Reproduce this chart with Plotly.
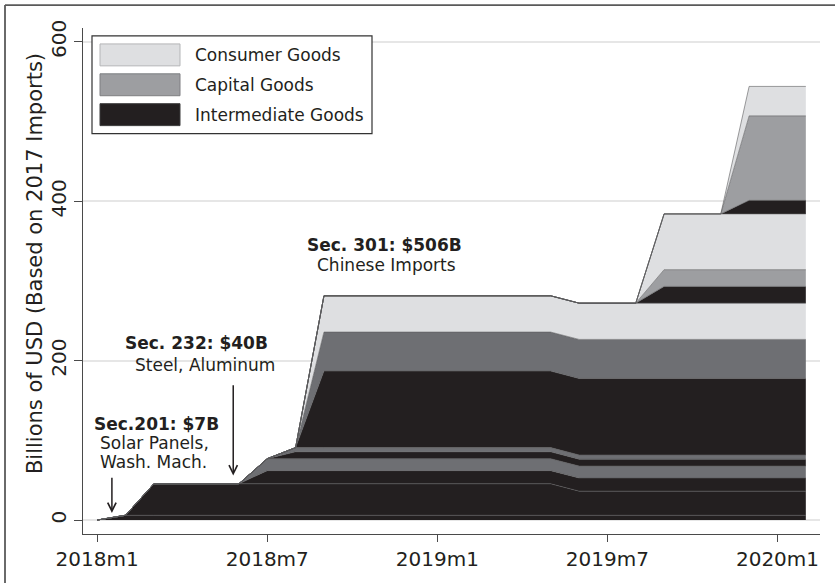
import plotly.graph_objects as go

# ---------------- data (billions of USD, based on 2017 imports) ----------------
months = ["2018m1", "2018m2", "2018m3", "2018m4", "2018m5", "2018m6", "2018m7",
          "2018m8", "2018m9", "2018m10", "2018m11", "2018m12", "2019m1",
          "2019m2", "2019m3", "2019m4", "2019m5", "2019m6", "2019m7",
          "2019m8", "2019m9", "2019m10", "2019m11", "2019m12", "2020m1", "2020m2"]
month_idx = list(range(len(months)))

tick_vals = [0, 6, 12, 18, 24]
tick_text = ["2018m1", "2018m7", "2019m1", "2019m7", "2020m1"]
y_ticks = [0, 200, 400, 600]

# Sec. 201 (solar panels, washing machines)
sec201_int = [0, 6, 6, 6, 6, 6, 6, 6, 6, 6, 6, 6, 6,
              6, 6, 6, 6, 6, 6, 6, 6, 6, 6, 6, 6, 6]
# Sec. 232 (steel, aluminum)
sec232_int = [0, 0, 39.5, 39.5, 39.5, 39.5, 39.5, 39.5, 39.5, 39.5, 39.5, 39.5, 39.5,
              39.5, 39.5, 39.5, 39.5, 30.3, 30.3, 30.3, 30.3, 30.3, 30.3, 30.3, 30.3, 30.3]
# Sec. 301 List 1
list1_int = [0, 0, 0, 0, 0, 0, 16.5, 16.5, 16.5, 16.5, 16.5, 16.5, 16.5,
             16.5, 16.5, 16.5, 16.5, 16.5, 16.5, 16.5, 16.5, 16.5, 16.5, 16.5, 16.5, 16.5]
list1_cap = [0, 0, 0, 0, 0, 0, 15, 15, 15, 15, 15, 15, 15,
             15, 15, 15, 15, 15, 15, 15, 15, 15, 15, 15, 15, 15]
# Sec. 301 List 2
list2_int = [0, 0, 0, 0, 0, 0, 0, 8.6, 8.6, 8.6, 8.6, 8.6, 8.6,
             8.6, 8.6, 8.6, 8.6, 8.6, 8.6, 8.6, 8.6, 8.6, 8.6, 8.6, 8.6, 8.6]
list2_cap = [0, 0, 0, 0, 0, 0, 0, 5.3, 5.3, 5.3, 5.3, 5.3, 5.3,
             5.3, 5.3, 5.3, 5.3, 5.3, 5.3, 5.3, 5.3, 5.3, 5.3, 5.3, 5.3, 5.3]
# Sec. 301 List 3
list3_int = [0, 0, 0, 0, 0, 0, 0, 0, 96, 96, 96, 96, 96,
             96, 96, 96, 96, 96, 96, 96, 96, 96, 96, 96, 96, 96]
list3_cap = [0, 0, 0, 0, 0, 0, 0, 0, 49, 49, 49, 49, 49,
             49, 49, 49, 49, 49, 49, 49, 49, 49, 49, 49, 49, 49]
list3_con = [0, 0, 0, 0, 0, 0, 0, 0, 45.5, 45.5, 45.5, 45.5, 45.5,
             45.5, 45.5, 45.5, 45.5, 45.5, 45.5, 45.5, 45.5, 45.5, 45.5, 45.5, 45.5, 45.5]
# Sec. 301 List 4A
list4a_int = [0, 0, 0, 0, 0, 0, 0, 0, 0, 0, 0, 0, 0,
              0, 0, 0, 0, 0, 0, 0, 21, 21, 21, 21, 21, 21]
list4a_cap = [0, 0, 0, 0, 0, 0, 0, 0, 0, 0, 0, 0, 0,
              0, 0, 0, 0, 0, 0, 0, 21, 21, 21, 21, 21, 21]
list4a_con = [0, 0, 0, 0, 0, 0, 0, 0, 0, 0, 0, 0, 0,
              0, 0, 0, 0, 0, 0, 0, 70, 70, 70, 70, 70, 70]
# Sec. 301 List 4B
list4b_int = [0, 0, 0, 0, 0, 0, 0, 0, 0, 0, 0, 0, 0,
              0, 0, 0, 0, 0, 0, 0, 0, 0, 0, 17, 17, 17]
list4b_cap = [0, 0, 0, 0, 0, 0, 0, 0, 0, 0, 0, 0, 0,
              0, 0, 0, 0, 0, 0, 0, 0, 0, 0, 106, 106, 106]
list4b_con = [0, 0, 0, 0, 0, 0, 0, 0, 0, 0, 0, 0, 0,
              0, 0, 0, 0, 0, 0, 0, 0, 0, 0, 37, 37, 37]

legend_labels = ["Consumer Goods", "Capital Goods", "Intermediate Goods"]

# ---------------- styles ----------------
BLACK = "#231f20"
DGRAY = "#6e6f73"
MGRAY = "#9d9ea1"
LGRAY = "#dedfe1"
EDGE = "#5a5a5d"
FONT = "DejaVu Sans"
TXT = "#231f20"

bands = [
    ("Sec.201 intermediate", sec201_int, BLACK),
    ("Sec.232 intermediate", sec232_int, BLACK),
    ("List 1 intermediate", list1_int, BLACK),
    ("List 1 capital", list1_cap, DGRAY),
    ("List 2 intermediate", list2_int, BLACK),
    ("List 2 capital", list2_cap, DGRAY),
    ("List 3 intermediate", list3_int, BLACK),
    ("List 3 capital", list3_cap, DGRAY),
    ("List 3 consumer", list3_con, LGRAY),
    ("List 4A intermediate", list4a_int, BLACK),
    ("List 4A capital", list4a_cap, MGRAY),
    ("List 4A consumer", list4a_con, LGRAY),
    ("List 4B intermediate", list4b_int, BLACK),
    ("List 4B capital", list4b_cap, MGRAY),
    ("List 4B consumer", list4b_con, LGRAY),
]

fig = go.Figure()
for name, vals, col in bands:
    fig.add_trace(go.Scatter(
        x=month_idx, y=vals, name=name, text=months,
        stackgroup="waves", mode="lines",
        line=dict(color=EDGE, width=0.6),
        fillcolor=col, showlegend=False,
        hovertemplate="%{text}: %{y}<extra>" + name + "</extra>",
    ))

# ---------------- geometry helpers (paper coords) ----------------
L, R, T, B = 83, 820, 28, 536
W, H = 835, 583


def px(xp):
    return (xp - L) / (R - L)


def py(yp):
    return (B - yp) / (B - T)


shapes = []
# outer frame (left and top edges visible)
shapes.append(dict(type="line", xref="paper", yref="paper",
                   x0=px(5), x1=px(840), y0=py(5), y1=py(5),
                   line=dict(color="#5a5a5a", width=1.8)))
shapes.append(dict(type="line", xref="paper", yref="paper",
                   x0=px(5), x1=px(5), y0=py(5), y1=py(590),
                   line=dict(color="#5a5a5a", width=1.8)))

# custom legend
shapes.append(dict(type="rect", xref="paper", yref="paper",
                   x0=px(92), x1=px(372), y0=py(36), y1=py(134),
                   line=dict(color="#333333", width=1.2), fillcolor="white"))
legend_fill = [LGRAY, MGRAY, BLACK]
legend_edge = ["#b4b5b7", "#7e7f82", "#3a3a3a"]
row_tops = [44, 74, 104]
annotations = []
for lab, fc, ec, top in zip(legend_labels, legend_fill, legend_edge, row_tops):
    shapes.append(dict(type="rect", xref="paper", yref="paper",
                       x0=px(100), x1=px(180), y0=py(top), y1=py(top + 22),
                       line=dict(color=ec, width=1), fillcolor=fc))
    annotations.append(dict(xref="paper", yref="paper", x=px(193), y=py(top + 11),
                            text=lab, showarrow=False, xanchor="left", yanchor="middle",
                            font=dict(family=FONT, size=17, color=TXT)))

# y-axis title
annotations.append(dict(xref="paper", yref="paper", x=px(35), y=py(265),
                        text="Billions of USD (Based on 2017 Imports)", textangle=-90,
                        showarrow=False, xanchor="center", yanchor="middle",
                        font=dict(family=FONT, size=21, color=TXT)))

# wave labels (data coords)
labels = [
    ("<b>Sec.201: $7B</b>", 2.11, 120.9),
    ("Solar Panels,", 2.01, 97.1),
    ("Wash. Mach.", 1.99, 73.4),
    ("<b>Sec. 232: $40B</b>", 3.52, 221.9),
    ("Steel, Aluminum", 3.79, 194.6),
    ("<b>Sec. 301: $506B</b>", 10.12, 345.2),
    ("Chinese Imports", 10.22, 319.6),
]
for txt, xx, yy in labels:
    annotations.append(dict(x=xx, y=yy, xref="x", yref="y", text=txt, showarrow=False,
                            xanchor="center", yanchor="middle",
                            font=dict(family=FONT, size=17, color=TXT)))

# arrows
arrows = [(0.52, 9, 55), (4.8, 56, 171)]
for xx, head, tail in arrows:
    annotations.append(dict(x=xx, y=head, ax=xx, ay=tail, xref="x", yref="y",
                            axref="x", ayref="y", text="", showarrow=True,
                            arrowhead=5, arrowsize=1.1, arrowwidth=1.5,
                            arrowcolor=TXT, standoff=0))

fig.update_layout(
    width=W, height=H,
    margin=dict(l=L, r=W - R, t=T, b=H - B),
    paper_bgcolor="white", plot_bgcolor="white",
    font=dict(family=FONT, color=TXT),
    shapes=shapes, annotations=annotations,
    showlegend=False,
    xaxis=dict(range=[-0.5, 25.5], tickvals=tick_vals, ticktext=tick_text,
               showline=True, linecolor="#4a4a4a", linewidth=1.2,
               ticks="outside", ticklen=7, tickwidth=1.2, tickcolor="#4a4a4a",
               showgrid=False, zeroline=False,
               tickfont=dict(family=FONT, size=20, color=TXT)),
    yaxis=dict(range=[-17.5, 617.5], tickvals=y_ticks, tickangle=-90,
               showline=True, linecolor="#4a4a4a", linewidth=1.2,
               ticks="outside", ticklen=8, tickwidth=1.2, tickcolor="#4a4a4a",
               showgrid=True, gridcolor="#e6e6e6", gridwidth=1.5, zeroline=False,
               tickfont=dict(family=FONT, size=20, color=TXT)),
)

fig.write_html("out.html",
               config={"displayModeBar": False},
               post_script="document.body.style.margin='0';document.body.style.overflow='hidden';")
